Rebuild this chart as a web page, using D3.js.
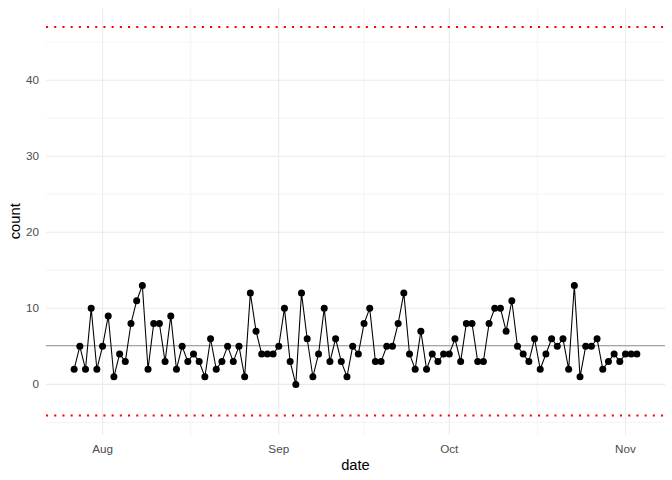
<!DOCTYPE html>
<html>
<head>
<meta charset="utf-8">
<script src="https://cdn.jsdelivr.net/npm/d3@7"></script>
<style>
  body { margin: 0; background: #fff; }
  svg { font-family: "Liberation Sans", Arial, sans-serif; }
  .grid-major { stroke: #ebebeb; stroke-width: 1.07; }
  .grid-minor { stroke: #ebebeb; stroke-width: 0.53; }
  .tick-label { fill: #4d4d4d; font-size: 11.7px; }
  .axis-title { fill: #000; font-size: 14.7px; }
</style>
</head>
<body>
<div class="chart"></div>
<script>
// daily counts, 27 Jul -> 3 Nov
let firstDay = new Date(Date.UTC(2020, 6, 27)),
  lastDay = new Date(Date.UTC(2020, 10, 3));
let days = d3.utcDay.range(firstDay, d3.utcDay.offset(lastDay, 1));

let counts = [
  2, 5, 2, 10, 2, 5, 9, 1, 4, 3, 8, 11, 13, 2, 8, 8, 3, 9, 2, 5, 3, 4, 3, 1, 6,
  2, 3, 5, 3, 5, 1, 12, 7, 4, 4, 4, 5, 10, 3, 0, 12, 6, 1, 4, 10, 3, 6, 3, 1,
  5, 4, 8, 10, 3, 3, 5, 5, 8, 12, 4, 2, 7, 2, 4, 3, 4, 4, 6, 3, 8, 8, 3, 3, 8,
  10, 10, 7, 11, 5, 4, 3, 6, 2, 4, 6, 5, 6, 2, 13, 1, 5, 5, 6, 2, 3, 4, 3, 4, 4, 4
];

// control limits as drawn
let upperLimit = 47.0,
  lowerLimit = -4.1;

let yMajor = [0, 10, 20, 30, 40],
  yMinor = [-5, 5, 15, 25, 35, 45];
let monthTicks = [
  new Date(Date.UTC(2020, 7, 1)), new Date(Date.UTC(2020, 8, 1)),
  new Date(Date.UTC(2020, 9, 1)), new Date(Date.UTC(2020, 10, 1))
];
let monthLabels = ["Aug", "Sep", "Oct", "Nov"];

let data = days.map((d, i) => ({date: d, count: counts[i]}));
let centre = d3.mean(counts);

let width = 672,
  height = 480,
  margin = {top: 7.5, right: 7, bottom: 45, left: 46};
let innerW = width - margin.left - margin.right,
  innerH = height - margin.top - margin.bottom;

let svg = d3.select(".chart")
  .append("svg")
  .attr("width", width)
  .attr("height", height)
  .append("g")
  .attr("transform", `translate(${margin.left},${margin.top})`);

// ggplot-style 5% expansion
let xSpan = lastDay - firstDay;
let xScale = d3.scaleUtc()
  .domain([new Date(+firstDay - xSpan * 0.05), new Date(+lastDay + xSpan * 0.05)])
  .range([0, innerW]);

let ySpan = upperLimit - lowerLimit;
let yScale = d3.scaleLinear()
  .domain([lowerLimit - ySpan * 0.05, upperLimit + ySpan * 0.05])
  .range([innerH, 0]);

// minor x breaks halfway between month starts
let xMinor = d3.pairs(monthTicks).map(p => new Date((+p[0] + +p[1]) / 2));

svg.append("g").selectAll("line")
  .data(yMinor)
  .enter().append("line")
  .attr("class", "grid-minor")
  .attr("x1", 0).attr("x2", innerW)
  .attr("y1", d => yScale(d)).attr("y2", d => yScale(d));

svg.append("g").selectAll("line")
  .data(xMinor)
  .enter().append("line")
  .attr("class", "grid-minor")
  .attr("y1", 0).attr("y2", innerH)
  .attr("x1", d => xScale(d)).attr("x2", d => xScale(d));

svg.append("g").selectAll("line")
  .data(yMajor)
  .enter().append("line")
  .attr("class", "grid-major")
  .attr("x1", 0).attr("x2", innerW)
  .attr("y1", d => yScale(d)).attr("y2", d => yScale(d));

svg.append("g").selectAll("line")
  .data(monthTicks)
  .enter().append("line")
  .attr("class", "grid-major")
  .attr("y1", 0).attr("y2", innerH)
  .attr("x1", d => xScale(d)).attr("x2", d => xScale(d));

// centre line
svg.append("line")
  .attr("x1", 0).attr("x2", innerW)
  .attr("y1", yScale(centre)).attr("y2", yScale(centre))
  .attr("stroke", "#a6a6a6")
  .attr("stroke-width", 1.4);

// limits
svg.append("g").selectAll("line")
  .data([upperLimit, lowerLimit])
  .enter().append("line")
  .attr("x1", 0).attr("x2", innerW)
  .attr("y1", d => yScale(d)).attr("y2", d => yScale(d))
  .attr("stroke", "#ff0000")
  .attr("stroke-width", 2.1)
  .attr("stroke-dasharray", "2.1,6.1");

let line = d3.line()
  .x(d => xScale(d.date))
  .y(d => yScale(d.count));

svg.append("path")
  .datum(data)
  .attr("fill", "none")
  .attr("stroke", "#000")
  .attr("stroke-width", 1.07)
  .attr("d", line);

svg.append("g").selectAll("circle")
  .data(data)
  .enter().append("circle")
  .attr("cx", d => xScale(d.date))
  .attr("cy", d => yScale(d.count))
  .attr("r", 3.5)
  .attr("fill", "#000");

// tick labels
svg.append("g").selectAll("text")
  .data(yMajor)
  .enter().append("text")
  .attr("class", "tick-label")
  .attr("x", -7)
  .attr("y", d => yScale(d))
  .attr("dy", "0.35em")
  .attr("text-anchor", "end")
  .text(d => d);

svg.append("g").selectAll("text")
  .data(monthTicks)
  .enter().append("text")
  .attr("class", "tick-label")
  .attr("x", d => xScale(d))
  .attr("y", innerH + 17.5)
  .attr("text-anchor", "middle")
  .text((d, i) => monthLabels[i]);

// axis titles
svg.append("text")
  .attr("class", "axis-title")
  .attr("text-anchor", "middle")
  .attr("x", innerW / 2)
  .attr("y", innerH + 35)
  .text("date");

svg.append("text")
  .attr("class", "axis-title")
  .attr("text-anchor", "middle")
  .attr("transform", `translate(${20 - margin.left},${innerH / 2})rotate(-90)`)
  .text("count");
</script>
</body>
</html>
